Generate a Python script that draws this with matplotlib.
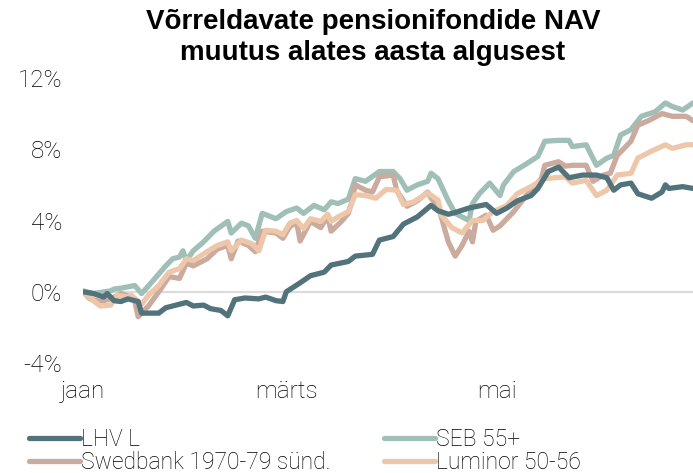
import matplotlib.pyplot as plt
from matplotlib import font_manager

# days since 1 Jan, values in % change of NAV
lhv_days = [0, 3, 6, 7, 9, 11, 13, 16, 17, 22, 24, 27, 30, 32, 35, 37, 40, 42, 44, 47,
            51, 53, 56, 58, 59, 61, 63, 66, 70, 72, 77, 79, 84, 86, 90, 93, 97, 101, 103, 106,
            108, 112, 117, 120, 123, 126, 130, 132, 135, 138, 141, 145, 149, 152, 154, 156, 159, 161, 165, 168,
            169, 170, 174, 177]
lhv_vals = [0.0, -0.1, -0.3, -0.1, -0.5, -0.55, -0.4, -0.55, -1.2, -1.2, -0.9, -0.75, -0.6, -0.8, -0.75, -0.95, -1.05, -1.35, -0.45, -0.35,
            -0.4, -0.3, -0.5, -0.55, 0.0, 0.25, 0.5, 0.9, 1.1, 1.5, 1.7, 2.0, 2.1, 2.9, 3.1, 3.8, 4.2, 4.85, 4.55, 4.35,
            4.45, 4.7, 4.9, 4.4, 4.7, 5.1, 5.4, 5.8, 6.75, 7.0, 6.4, 6.55, 6.55, 6.4, 5.7, 6.0, 6.1, 5.5, 5.25, 5.6,
            6.0, 5.8, 5.9, 5.8]

seb_days = [0, 3, 8, 9, 11, 15, 17, 20, 24, 26, 28, 29, 30, 32, 35, 38, 42, 43, 46, 48,
            50, 52, 56, 59, 62, 64, 67, 70, 72, 74, 77, 79, 82, 86, 90, 92, 94, 97, 100, 101,
            103, 106, 108, 112, 113, 115, 118, 121, 122, 125, 128, 132, 134, 138, 141, 142, 146, 149, 152, 154,
            156, 159, 161, 162, 166, 169, 171, 174, 177]
seb_vals = [0.05, -0.1, 0.05, 0.15, 0.2, 0.35, -0.1, 0.55, 1.45, 1.85, 1.95, 2.3, 1.75, 2.3, 2.8, 3.4, 3.95, 3.3, 3.85, 3.7,
            3.0, 4.4, 4.1, 4.5, 4.7, 4.4, 4.85, 4.6, 5.05, 4.95, 5.2, 6.35, 6.2, 6.75, 6.75, 6.35, 5.7, 6.0, 6.2, 6.65,
            6.35, 5.1, 4.4, 4.0, 4.95, 5.5, 6.1, 5.4, 6.0, 6.75, 7.1, 7.6, 8.45, 8.5, 8.5, 8.15, 8.25, 7.1, 7.5, 7.65,
            8.8, 9.1, 9.6, 9.85, 10.1, 10.6, 10.4, 10.2, 10.6]

swed_days = [0, 2, 5, 8, 11, 14, 15, 16, 19, 22, 25, 28, 30, 32, 36, 39, 42, 43, 45, 48,
             50, 52, 56, 58, 60, 62, 63, 66, 69, 71, 72, 75, 77, 78, 79, 82, 84, 86, 90, 91,
             94, 97, 100, 101, 103, 106, 108, 110, 111, 112, 113, 114, 117, 119, 121, 125, 128, 130, 133, 134,
             138, 140, 142, 146, 148, 151, 153, 155, 159, 161, 164, 168, 171, 175, 177]
swed_vals = [0.0, -0.4, -0.55, -0.4, -0.1, -0.3, -0.5, -1.4, -0.8, 0.0, 0.85, 0.75, 1.6, 1.45, 1.85, 2.4, 2.6, 1.85, 2.85, 2.6,
             2.25, 3.4, 3.3, 3.0, 3.65, 3.9, 2.85, 3.95, 3.6, 4.25, 3.4, 3.95, 4.4, 5.05, 6.0, 5.7, 5.6, 6.45, 6.55, 5.7,
             4.8, 5.1, 5.6, 5.25, 4.85, 2.8, 2.0, 2.6, 3.0, 3.4, 2.8, 3.95, 4.3, 3.45, 3.7, 4.5, 5.25, 5.7, 6.35, 7.1,
             7.3, 7.05, 7.1, 7.1, 6.2, 6.55, 6.65, 7.65, 8.45, 9.35, 9.6, 10.0, 9.85, 9.85, 9.6]

lum_days = [0, 3, 5, 8, 10, 13, 14, 17, 19, 22, 25, 28, 30, 32, 36, 39, 42, 43, 46, 49,
            51, 53, 56, 58, 60, 62, 64, 66, 69, 71, 72, 74, 77, 79, 82, 85, 88, 91, 93, 96,
            100, 103, 104, 107, 110, 113, 116, 119, 123, 126, 130, 134, 140, 142, 146, 149, 152, 155, 159, 161,
            165, 169, 171, 175, 177]
lum_vals = [0.0, -0.5, -0.8, -0.75, -0.2, -0.3, -0.2, -0.7, -0.2, 0.35, 1.1, 1.3, 1.85, 1.75, 2.25, 2.6, 2.8, 2.3, 2.9, 2.7,
            2.3, 3.45, 3.4, 3.2, 3.85, 4.0, 3.55, 4.1, 3.95, 4.35, 3.95, 4.2, 4.5, 5.45, 5.4, 5.25, 5.75, 5.7, 4.9, 5.05,
            5.55, 5.15, 4.3, 3.6, 3.3, 4.0, 4.0, 4.5, 4.85, 5.5, 5.9, 6.35, 6.45, 6.1, 6.25, 5.4, 5.7, 6.55, 6.65, 7.5,
            7.9, 8.25, 8.05, 8.25, 8.25]

month_days = [0, 59, 120]
month_labels = ["jaan", "märts", "mai"]
y_ticks = [-4, 0, 4, 8, 12]

names = ["LHV L", "SEB 55+", "Swedbank 1970-79 sünd.", "Luminor 50-56"]
colors = ["#52737c", "#9fbfb7", "#caab9e", "#eec7ab"]

names_avail = {f.name for f in font_manager.fontManager.ttflist}
light_font = "Roboto" if "Roboto" in names_avail else "DejaVu Sans"

fig = plt.figure(figsize=(6.93, 4.73), dpi=100)
ax = fig.add_axes([83 / 693, 1 - 363 / 473, 610 / 693, 285 / 473])

ax.axhline(0, color="#dcdcdc", lw=1.6, zorder=1)

lw = 3.8
style = dict(lw=lw, solid_capstyle="round", solid_joinstyle="round")
l_seb, = ax.plot(seb_days, seb_vals, color=colors[1], label=names[1], zorder=2, **style)
l_swed, = ax.plot(swed_days, swed_vals, color=colors[2], label=names[2], zorder=3, **style)
l_lum, = ax.plot(lum_days, lum_vals, color=colors[3], label=names[3], zorder=4, **style)
l_lhv, = ax.plot(lhv_days, lhv_vals, color=colors[0], label=names[0], zorder=5, **style)

ax.set_xlim(0, 177)
ax.set_ylim(-4, 12)
ax.set_yticks(y_ticks)
ax.set_yticklabels([f"{t}%" for t in y_ticks])
ax.set_xticks(month_days)
ax.set_xticklabels(month_labels)
ax.tick_params(length=0, labelsize=17.5)
ax.tick_params(axis="y", pad=15)
ax.tick_params(axis="x", pad=12)
for lab in ax.get_xticklabels() + ax.get_yticklabels():
    lab.set_fontfamily(light_font)
    lab.set_fontweight("light")
    lab.set_color("black")
for s in ax.spines.values():
    s.set_visible(False)

fig.text(373 / 693, 1 - 9 / 473, "Võrreldavate pensionifondide NAV\nmuutus alates aasta algusest",
         ha="center", va="top", fontsize=20, fontweight="bold", family="Liberation Sans",
         linespacing=1.25)

leg = fig.legend([l_lhv, l_swed, l_seb, l_lum], [names[0], names[2], names[1], names[3]],
                 loc="upper left", bbox_to_anchor=(20 / 693, 1 - 419 / 473), ncol=2,
                 frameon=False, handlelength=2.2, handletextpad=0.05, labelspacing=0.0,
                 columnspacing=2.35, borderaxespad=0,
                 prop={"family": light_font, "weight": "light", "size": 16.5})
for t in leg.get_texts():
    t.set_color("black")

fig.savefig("out.png", dpi=100)
